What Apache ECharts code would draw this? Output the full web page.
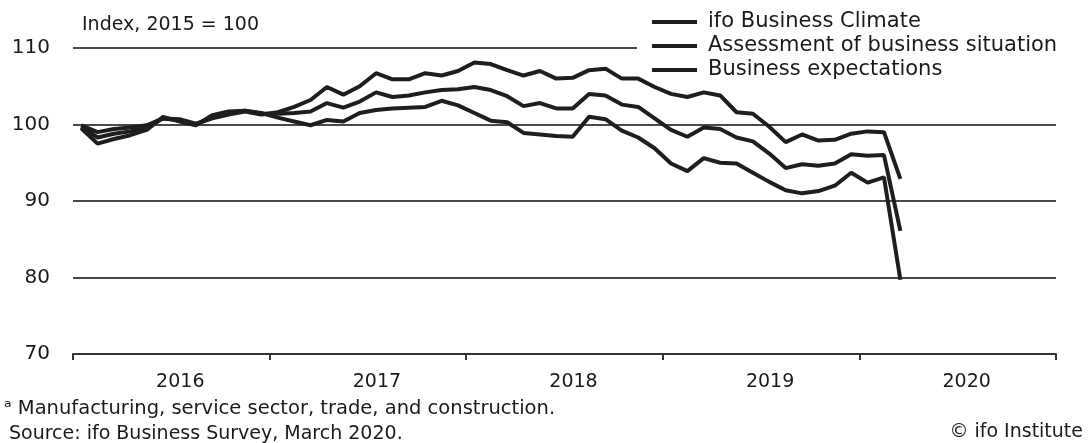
<!DOCTYPE html>
<html>
<head>
<meta charset="utf-8">
<script src="https://cdn.jsdelivr.net/npm/echarts@6/dist/echarts.min.js"></script>
<style>
  html, body { margin: 0; padding: 0; background: #fff; }
  #chart { width: 1089px; height: 443px; }
</style>
</head>
<body>
<div id="chart"></div>
<script>
// year labels on the axis, months for the data
var years = ['2016', '2017', '2018', '2019', '2020'];
var months = [];
for (var y = 2016; y <= 2020; y++) {
  for (var m = 1; m <= 12; m++) {
    months.push(y + '-' + (m < 10 ? '0' + m : m));
  }
}

var yTicks = [70, 80, 90, 100, 110];

// ifo index, 2015 = 100, Jan 2016 .. Mar 2020
var situation = [99.9, 99.0, 99.4, 99.6, 99.9, 100.8, 100.7, 100.1, 100.8, 101.3, 101.7, 101.3,
  101.6, 102.3, 103.2, 104.9, 103.9, 105.0, 106.7, 105.9, 105.9, 106.7, 106.4, 107.0,
  108.1, 107.9, 107.1, 106.4, 107.0, 106.0, 106.1, 107.1, 107.3, 106.0, 106.0, 104.9,
  104.0, 103.6, 104.2, 103.8, 101.6, 101.4, 99.7, 97.7, 98.7, 97.9, 98.0, 98.8,
  99.1, 99.0, 92.9];

var climate = [99.7, 98.3, 98.8, 99.1, 99.6, 100.8, 100.5, 100.0, 101.0, 101.5, 101.8, 101.4,
  101.4, 101.5, 101.7, 102.8, 102.2, 103.0, 104.2, 103.6, 103.8, 104.2, 104.5, 104.6,
  104.9, 104.5, 103.7, 102.4, 102.8, 102.1, 102.1, 104.0, 103.8, 102.6, 102.3, 100.8,
  99.3, 98.4, 99.6, 99.4, 98.3, 97.8, 96.2, 94.3, 94.8, 94.6, 94.9, 96.1,
  95.9, 96.0, 86.1];

var expectations = [99.5, 97.5, 98.1, 98.6, 99.3, 101.0, 100.4, 99.9, 101.2, 101.7, 101.8, 101.5,
  100.9, 100.4, 99.9, 100.6, 100.4, 101.5, 101.9, 102.1, 102.2, 102.3, 103.1, 102.5,
  101.5, 100.5, 100.3, 98.9, 98.7, 98.5, 98.4, 101.0, 100.7, 99.2, 98.3, 96.9,
  94.9, 93.9, 95.6, 95.0, 94.9, 93.7, 92.5, 91.4, 91.0, 91.3, 92.0, 93.7,
  92.4, 93.1, 79.7];

var seriesNames = ['ifo Business Climate', 'Assessment of business situation', 'Business expectations'];

var FONT = 'DejaVu Sans';
var chart = echarts.init(document.getElementById('chart'), null, { renderer: 'canvas' });

function lineSeries(name, data) {
  return {
    name: name,
    type: 'line',
    xAxisIndex: 1,
    data: data,
    showSymbol: false,
    symbol: 'none',
    lineStyle: { color: '#1e1e1e', width: 4 },
    itemStyle: { color: '#1e1e1e' },
    z: 3
  };
}

var option = {
  backgroundColor: '#fff',
  animation: false,
  title: [
    {
      text: 'Index, 2015 = 100',
      left: 82, top: 13, padding: 0,
      textStyle: { fontFamily: FONT, fontSize: 19, fontWeight: 'normal', color: '#1a1a1a', lineHeight: 24 }
    },
    {
      text: 'ᵃ Manufacturing, service sector, trade, and construction.',
      left: 4, top: 397, padding: 0,
      textStyle: { fontFamily: FONT, fontSize: 19.5, fontWeight: 'normal', color: '#1a1a1a', lineHeight: 24 }
    },
    {
      text: 'Source: ifo Business Survey, March 2020.',
      left: 9, top: 422, padding: 0,
      textStyle: { fontFamily: FONT, fontSize: 19, fontWeight: 'normal', color: '#1a1a1a', lineHeight: 24 }
    },
    {
      text: '© ifo Institute',
      right: 6, top: 420, padding: 0,
      textStyle: { fontFamily: FONT, fontSize: 19, fontWeight: 'normal', color: '#1a1a1a', lineHeight: 24 }
    }
  ],
  legend: {
    orient: 'vertical',
    left: 637, top: 10,
    padding: [0, 10, 0, 15],
    // white box hides the 110 gridline behind the legend, lines stay on top
    backgroundColor: '#fff',
    itemWidth: 45, itemHeight: 4,
    itemGap: 0,
    icon: 'rect',
    data: seriesNames,
    textStyle: { fontFamily: FONT, fontSize: 21, color: '#1a1a1a', lineHeight: 24, padding: [0, 0, 0, 6] },
    z: 1
  },
  grid: { left: 73, right: 33, top: 48, bottom: 89 },
  xAxis: [
    {
      type: 'category',
      data: years,
      boundaryGap: true,
      axisLine: { lineStyle: { color: '#333', width: 2 } },
      axisTick: { show: true, length: 6, lineStyle: { color: '#333', width: 2 } },
      axisLabel: { fontFamily: FONT, fontSize: 19, color: '#1a1a1a', margin: 19, padding: [0, 0, 0, 18] },
      splitLine: { show: false }
    },
    {
      type: 'category',
      data: months,
      boundaryGap: true,
      show: false
    }
  ],
  yAxis: {
    type: 'value',
    min: yTicks[0],
    max: yTicks[yTicks.length - 1],
    interval: 10,
    axisLine: { show: false },
    axisTick: { show: false },
    axisLabel: { fontFamily: FONT, fontSize: 20, color: '#1a1a1a', margin: 23 },
    splitLine: { show: true, lineStyle: { color: '#4a4a4a', width: 2 } },
    z: 0
  },
  series: [
    lineSeries(seriesNames[1], situation),
    lineSeries(seriesNames[0], climate),
    lineSeries(seriesNames[2], expectations)
  ]
};

chart.setOption(option);
</script>
</body>
</html>
